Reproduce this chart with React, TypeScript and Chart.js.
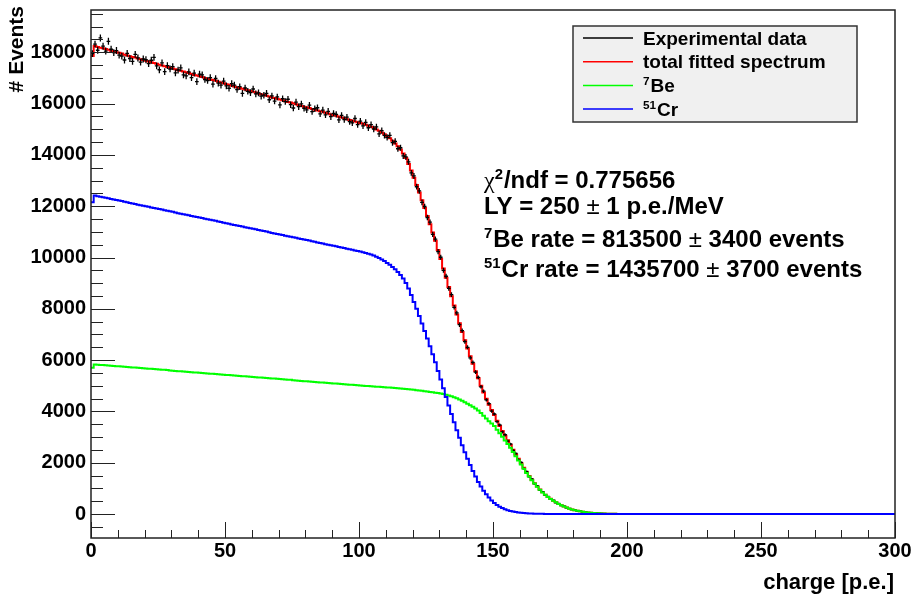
import React, { useEffect, useRef } from "react";
import { Chart, registerables } from "chart.js";

Chart.register(...registerables);

// ---------- axis ranges & tick labels ----------
const BIN_WIDTH = 1;
const X_MIN = 0;
const X_MAX = 300;
const Y_MIN = -935;
const Y_MAX = 19650;
const X_TICK_LABELS = [0, 50, 100, 150, 200, 250, 300];
const Y_TICK_LABELS = [0, 2000, 4000, 6000, 8000, 10000, 12000, 14000, 16000, 18000];
const X_MINOR_STEP = 10;
const Y_MINOR_STEP = 500;
const X_TITLE = "charge [p.e.]";
const Y_TITLE = "# Events";

// ---------- series (one value per 1 p.e. bin, starting at 0) ----------
const DATA = [
  17950, 18320, 18080, 18560, 18240, 18050, 18430, 18120, 17990, 18070,
  17890, 17850, 17700, 17960, 17760, 17650, 17920, 17780, 17620, 17740,
  17710, 17560, 17690, 17800, 17470, 17320, 17590, 17250, 17480, 17350,
  17440, 17200, 17310, 17390, 17120, 17080, 17240, 17010, 17190, 16860,
  17150, 17120, 16940, 16900, 17010, 16760, 16980, 16800, 16720, 16880,
  16690, 16600, 16780, 16720, 16550, 16660, 16400, 16610, 16480, 16430,
  16570, 16380, 16420, 16290, 16330, 16400, 16150, 16300, 16100, 16260,
  15950, 16190, 16080, 16170, 15960, 15830, 16060, 15880, 15990, 15820,
  15760, 15940, 15690, 15800, 15840, 15600, 15750, 15560, 15700, 15490,
  15620, 15580, 15370, 15540, 15380, 15470, 15300, 15250, 15420, 15180,
  15320, 15130, 15270, 15060, 15180, 15010, 15090, 14820, 14950, 14760,
  14680, 14760, 14480, 14530, 14240, 14280, 13960, 13920, 13730, 13300,
  13180, 12760, 12600, 12150, 11990, 11560, 11380, 10900, 10720, 10230,
  10010, 9500, 9270, 8800, 8550, 8060, 7840, 7380, 7150, 6720,
  6500, 6090, 5910, 5530, 5330, 4960, 4790, 4450, 4300, 4010,
  3900, 3600, 3470, 3200, 3090, 2840, 2730, 2480, 2360, 2120,
  2010, 1770, 1660, 1450, 1370, 1180, 1100, 930, 870, 730,
  690, 570, 540, 440, 410, 325, 305, 238, 222, 170,
  158, 120, 112, 82, 77, 55, 51, 37, 34, 24,
  23, 15, 14, 9, 9, 5, 6, 3,
];

const TOTAL = [
  17860, 18250, 18210, 18180, 18160, 18130, 18100, 18060, 18030, 18000,
  17980, 17950, 17910, 17880, 17850, 17820, 17800, 17760, 17730, 17700,
  17670, 17640, 17610, 17580, 17550, 17520, 17490, 17460, 17430, 17400,
  17370, 17340, 17300, 17280, 17250, 17220, 17190, 17150, 17120, 17100,
  17070, 17040, 17000, 16970, 16940, 16920, 16890, 16850, 16820, 16790,
  16760, 16740, 16700, 16670, 16640, 16610, 16580, 16550, 16520, 16490,
  16460, 16430, 16390, 16370, 16340, 16310, 16280, 16240, 16220, 16190,
  16160, 16130, 16090, 16060, 16040, 16010, 15980, 15940, 15910, 15880,
  15860, 15830, 15790, 15760, 15730, 15700, 15680, 15640, 15610, 15580,
  15550, 15530, 15490, 15460, 15430, 15390, 15360, 15340, 15300, 15270,
  15240, 15215, 15175, 15140, 15100, 15055, 14995, 14940, 14870, 14805,
  14725, 14650, 14550, 14450, 14340, 14210, 14060, 13880, 13650, 13390,
  13110, 12830, 12535, 12235, 11930, 11615, 11300, 10975, 10650, 10295,
  9940, 9575, 9210, 8850, 8490, 8130, 7780, 7435, 7100, 6770,
  6450, 6150, 5860, 5570, 5290, 5005, 4740, 4495, 4260, 4055,
  3860, 3640, 3435, 3240, 3055, 2875, 2698, 2510, 2325, 2150,
  1978, 1803, 1630, 1483, 1338, 1204, 1070, 958, 846, 754,
  663, 592, 522, 456, 391, 340, 290, 250, 210, 180,
  150, 128, 105, 88, 72, 60, 48, 40, 32, 26,
  21, 17, 13, 10, 8, 6, 5, 4, 3, 2,
];

const BE7 = [
  5700, 5830, 5820, 5810, 5810, 5800, 5790, 5780, 5770, 5760,
  5760, 5750, 5740, 5730, 5720, 5710, 5710, 5700, 5690, 5680,
  5670, 5660, 5660, 5650, 5640, 5630, 5620, 5620, 5610, 5600,
  5590, 5580, 5570, 5570, 5560, 5550, 5540, 5530, 5520, 5520,
  5510, 5500, 5490, 5480, 5470, 5470, 5460, 5450, 5440, 5430,
  5420, 5420, 5410, 5400, 5390, 5380, 5370, 5370, 5360, 5350,
  5340, 5330, 5320, 5320, 5310, 5300, 5290, 5280, 5280, 5270,
  5260, 5250, 5240, 5230, 5230, 5220, 5210, 5200, 5190, 5180,
  5180, 5170, 5160, 5150, 5140, 5130, 5130, 5120, 5110, 5100,
  5090, 5090, 5080, 5070, 5060, 5050, 5040, 5040, 5030, 5020,
  5010, 5005, 4995, 4990, 4980, 4975, 4965, 4960, 4950, 4945,
  4935, 4930, 4920, 4910, 4900, 4890, 4880, 4870, 4860, 4850,
  4840, 4830, 4815, 4805, 4790, 4775, 4760, 4745, 4730, 4715,
  4700, 4675, 4650, 4620, 4590, 4550, 4510, 4465, 4420, 4360,
  4300, 4240, 4180, 4110, 4040, 3935, 3830, 3725, 3620, 3525,
  3430, 3290, 3150, 3010, 2870, 2725, 2580, 2415, 2250, 2090,
  1930, 1765, 1600, 1460, 1320, 1190, 1060, 950, 840, 750,
  660, 590, 520, 455, 390, 340, 290, 250, 210, 180,
  150, 128, 105, 88, 72, 60, 48, 40, 32, 26,
  21, 17, 13, 10, 8, 6, 5, 4, 3, 2,
];

const CR51 = [
  12150, 12420, 12390, 12370, 12350, 12330, 12310, 12280, 12260, 12240,
  12220, 12200, 12170, 12150, 12130, 12110, 12090, 12060, 12040, 12020,
  12000, 11980, 11950, 11930, 11910, 11890, 11870, 11840, 11820, 11800,
  11780, 11760, 11730, 11710, 11690, 11670, 11650, 11620, 11600, 11580,
  11560, 11540, 11510, 11490, 11470, 11450, 11430, 11400, 11380, 11360,
  11340, 11320, 11290, 11270, 11250, 11230, 11210, 11180, 11160, 11140,
  11120, 11100, 11070, 11050, 11030, 11010, 10990, 10960, 10940, 10920,
  10900, 10880, 10850, 10830, 10810, 10790, 10770, 10740, 10720, 10700,
  10680, 10660, 10630, 10610, 10590, 10570, 10550, 10520, 10500, 10480,
  10460, 10440, 10410, 10390, 10370, 10340, 10320, 10300, 10270, 10250,
  10230, 10210, 10180, 10150, 10120, 10080, 10030, 9980, 9920, 9860,
  9790, 9720, 9630, 9540, 9440, 9320, 9180, 9010, 8790, 8540,
  8270, 8000, 7720, 7430, 7140, 6840, 6540, 6230, 5920, 5580,
  5240, 4900, 4560, 4230, 3900, 3580, 3270, 2970, 2680, 2410,
  2150, 1910, 1680, 1460, 1250, 1070, 910, 770, 640, 530,
  430, 350, 285, 230, 185, 150, 118, 95, 75, 60,
  48, 38, 30, 23, 18, 14, 10, 8, 6, 4,
  3, 2, 2, 1, 1, 0, 0, 0, 0, 0,
  0, 0, 0, 0, 0, 0, 0, 0, 0, 0,
  0, 0, 0, 0, 0, 0, 0, 0, 0, 0,
];

// ---------- text content ----------
type Part = { t: string; sup?: boolean; sym?: boolean; greek?: boolean };
const LEGEND_ENTRIES: { parts: Part[]; color: string }[] = [
  { parts: [{ t: "Experimental data" }], color: "#000000" },
  { parts: [{ t: "total fitted spectrum" }], color: "#ff0000" },
  { parts: [{ t: "7", sup: true }, { t: "Be" }], color: "#00ff00" },
  { parts: [{ t: "51", sup: true }, { t: "Cr" }], color: "#0000ff" },
];
const FIT_TEXT: Part[][] = [
  [{ t: "χ", greek: true }, { t: "2", sup: true }, { t: "/ndf = 0.775656" }],
  [{ t: "LY = 250 " }, { t: "±", sym: true }, { t: " 1 p.e./MeV" }],
  [{ t: "7", sup: true }, { t: "Be rate = 813500 " }, { t: "±", sym: true }, { t: " 3400 events" }],
  [{ t: "51", sup: true }, { t: "Cr rate = 1435700 " }, { t: "±", sym: true }, { t: " 3700 events" }],
];

const FONT = "'Liberation Sans', Arial, Helvetica, sans-serif";

const toSteps = (vals: number[]) => [
  ...vals.map((y, i) => ({ x: X_MIN + i * BIN_WIDTH, y })),
  { x: X_MAX, y: vals[vals.length - 1] },
];

function drawRich(ctx: CanvasRenderingContext2D, parts: Part[], x: number, y: number, size: number) {
  let cx = x;
  for (const p of parts) {
    const fs = p.sup ? size * 0.62 : size;
    let font = `bold ${fs}px ${FONT}`;
    if (p.greek) font = `${size}px 'Liberation Serif', serif`;
    if (p.sym) font = `${size}px ${FONT}`;
    ctx.font = font;
    const dy = p.sup ? -size * 0.36 : 0;
    ctx.fillText(p.t, cx, y + dy);
    cx += ctx.measureText(p.t).width + (p.sup ? 1 : 0);
  }
}

const rootPlugin = {
  id: "rootStyle",
  afterDatasetDraw(chart: any, args: any) {
    const ds = chart.data.datasets[args.index];
    if (!ds.errorBars) return;
    const { ctx, chartArea, scales } = chart;
    const xs = scales.x;
    const ys = scales.y;
    ctx.save();
    ctx.beginPath();
    ctx.rect(chartArea.left, chartArea.top, chartArea.right - chartArea.left, chartArea.bottom - chartArea.top);
    ctx.clip();
    ctx.strokeStyle = "#000";
    ctx.lineWidth = 1.3;
    ctx.beginPath();
    args.meta.data.forEach((pt: any, i: number) => {
      const v = DATA[i];
      const e = Math.sqrt(v);
      const xl = xs.getPixelForValue(X_MIN + i * BIN_WIDTH);
      const xr = xs.getPixelForValue(X_MIN + (i + 1) * BIN_WIDTH);
      ctx.moveTo(xl - 0.5, pt.y);
      ctx.lineTo(xr + 0.5, pt.y);
      ctx.moveTo(pt.x, ys.getPixelForValue(v + e));
      ctx.lineTo(pt.x, ys.getPixelForValue(v - e));
    });
    ctx.stroke();
    ctx.restore();
  },
  afterDatasetsDraw(chart: any) {
    const { ctx, chartArea: a, scales } = chart;
    const xs = scales.x;
    const ys = scales.y;
    ctx.save();
    ctx.strokeStyle = "#222";
    ctx.lineWidth = 1;
    ctx.beginPath();
    for (let v = X_MIN; v <= X_MAX; v += X_MINOR_STEP) {
      const len = X_TICK_LABELS.includes(v) ? 16 : 8;
      const px = Math.round(xs.getPixelForValue(v)) + 0.5;
      ctx.moveTo(px, a.bottom);
      ctx.lineTo(px, a.bottom - len);
    }
    for (let v = Math.ceil(Y_MIN / Y_MINOR_STEP) * Y_MINOR_STEP; v <= Y_MAX; v += Y_MINOR_STEP) {
      const len = Y_TICK_LABELS.includes(v) ? 24 : 12;
      const py = Math.round(ys.getPixelForValue(v)) + 0.5;
      ctx.moveTo(a.left, py);
      ctx.lineTo(a.left + len, py);
    }
    ctx.stroke();
    ctx.lineWidth = 1.5;
    ctx.strokeStyle = "#222";
    ctx.strokeRect(a.left, a.top, a.right - a.left, a.bottom - a.top);
    ctx.restore();
  },
  afterDraw(chart: any) {
    const { ctx, chartArea: a } = chart;
    ctx.save();
    ctx.fillStyle = "#000";
    // axis titles
    ctx.font = `bold 22px ${FONT}`;
    ctx.textAlign = "right";
    ctx.textBaseline = "middle";
    ctx.fillText(X_TITLE, a.right - 1, 583);
    ctx.save();
    ctx.font = `bold 21px ${FONT}`;
    ctx.translate(17, a.top - 4);
    ctx.rotate(-Math.PI / 2);
    ctx.fillText(Y_TITLE, 0, 0);
    ctx.restore();

    // legend
    const lx = 573, ly = 26, lw = 284, lh = 96;
    ctx.fillStyle = "#f0f0f0";
    ctx.fillRect(lx, ly, lw, lh);
    ctx.strokeStyle = "#333";
    ctx.lineWidth = 1.5;
    ctx.strokeRect(lx, ly, lw, lh);
    ctx.textAlign = "left";
    ctx.textBaseline = "alphabetic";
    LEGEND_ENTRIES.forEach((en, i) => {
      const rowY = 38 + i * 23.7;
      ctx.strokeStyle = en.color;
      ctx.lineWidth = 1.5;
      ctx.beginPath();
      ctx.moveTo(583, rowY);
      ctx.lineTo(633, rowY);
      ctx.stroke();
      ctx.fillStyle = "#000";
      drawRich(ctx, en.parts, 643, rowY + 6.5, 19);
    });

    // fit results
    const baselines = [188, 214, 247, 277];
    FIT_TEXT.forEach((parts, i) => {
      ctx.fillStyle = "#000";
      drawRich(ctx, parts, 484, baselines[i], 24);
    });
    ctx.restore();
  },
};

export default function App() {
  const ref = useRef<HTMLCanvasElement>(null);
  useEffect(() => {
    if (!ref.current) return;
    const chart = new Chart(ref.current, {
      type: "line",
      data: {
        datasets: [
          {
            label: "Experimental data",
            data: DATA.map((y, i) => ({ x: X_MIN + (i + 0.5) * BIN_WIDTH, y })),
            showLine: false,
            pointRadius: 0,
            borderColor: "#000",
            order: 2,
            errorBars: true,
          } as any,
          {
            label: "total fitted spectrum",
            data: toSteps(TOTAL),
            stepped: "before",
            borderColor: "#ff0000",
            borderWidth: 2,
            pointRadius: 0,
            fill: false,
            order: 3,
          },
          {
            label: "7Be",
            data: toSteps(BE7),
            stepped: "before",
            borderColor: "#00ff00",
            borderWidth: 2,
            pointRadius: 0,
            fill: false,
            order: 1,
          },
          {
            label: "51Cr",
            data: toSteps(CR51),
            stepped: "before",
            borderColor: "#0000ff",
            borderWidth: 2,
            pointRadius: 0,
            fill: false,
            order: 0,
          },
        ],
      },
      options: {
        animation: false,
        responsive: false,
        devicePixelRatio: 1,
        layout: { padding: { top: 10, right: 18, left: 0, bottom: 0 } },
        plugins: { legend: { display: false }, tooltip: { enabled: false } },
        scales: {
          x: {
            type: "linear",
            min: X_MIN,
            max: X_MAX,
            grid: { display: false, drawTicks: false },
            border: { display: false },
            ticks: {
              autoSkip: false,
              maxRotation: 0,
              minRotation: 0,
              padding: 1,
              color: "#000",
              font: { family: FONT, size: 20, weight: "bold" },
              callback: (v: any) => String(v),
            },
            afterBuildTicks: (s: any) => {
              s.ticks = X_TICK_LABELS.map((v) => ({ value: v }));
            },
            afterFit: (s: any) => {
              s.height = 62;
              s.paddingLeft = 0;
              s.paddingRight = 0;
            },
          },
          y: {
            type: "linear",
            min: Y_MIN,
            max: Y_MAX,
            grid: { display: false, drawTicks: false },
            border: { display: false },
            ticks: {
              padding: 5,
              color: "#000",
              font: { family: FONT, size: 20, weight: "bold" },
              callback: (v: any) => String(v),
            },
            afterBuildTicks: (s: any) => {
              s.ticks = Y_TICK_LABELS.map((v) => ({ value: v }));
            },
            afterFit: (s: any) => {
              s.width = 91;
              s.paddingTop = 0;
              s.paddingBottom = 0;
            },
          },
        },
      } as any,
      plugins: [rootPlugin],
    });
    return () => chart.destroy();
  }, []);
  return (
    <div style={{ position: "fixed", left: 0, top: 0, width: 913, height: 600, background: "#fff" }}>
      <canvas ref={ref} width={913} height={600} style={{ width: 913, height: 600, display: "block" }} />
    </div>
  );
}
